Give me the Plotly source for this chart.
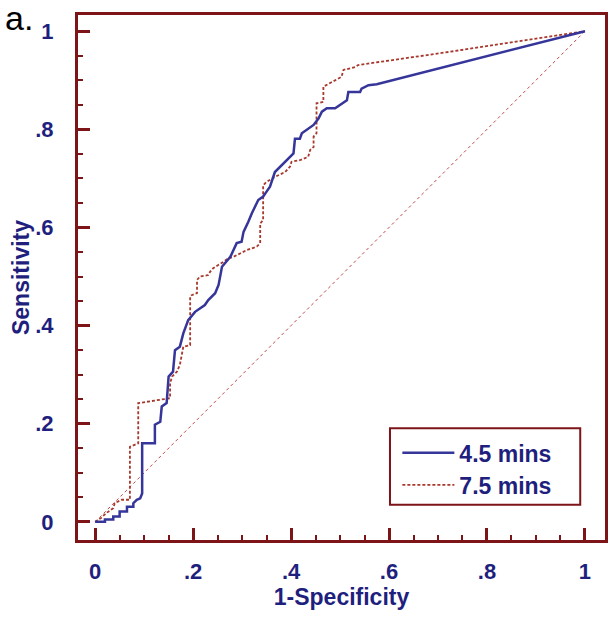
import plotly.graph_objects as go

# 4.5 mins ROC curve (1-specificity, sensitivity)
fpr_45 = [0, 0.02, 0.02, 0.037, 0.037, 0.05, 0.05, 0.065, 0.065, 0.078, 0.078, 0.085, 0.092, 0.096,
          0.096, 0.122, 0.122, 0.133, 0.136, 0.146, 0.150, 0.159, 0.163, 0.173, 0.180, 0.190, 0.204,
          0.224, 0.231, 0.245, 0.252, 0.259, 0.276, 0.282, 0.289, 0.299, 0.303, 0.313, 0.320, 0.333,
          0.343, 0.350, 0.357, 0.367, 0.384, 0.405, 0.408, 0.418, 0.422, 0.446, 0.456, 0.463, 0.473,
          0.490, 0.514, 0.517, 0.541, 0.544, 0.558, 0.575, 1.0]
tpr_45 = [0, 0.0, 0.005, 0.005, 0.011, 0.011, 0.021, 0.021, 0.031, 0.031, 0.038, 0.045, 0.048, 0.058,
          0.160, 0.160, 0.198, 0.204, 0.235, 0.242, 0.296, 0.306, 0.350, 0.357, 0.384, 0.411, 0.428,
          0.442, 0.452, 0.466, 0.483, 0.520, 0.540, 0.554, 0.568, 0.571, 0.591, 0.612, 0.629, 0.656,
          0.663, 0.673, 0.683, 0.713, 0.731, 0.751, 0.781, 0.781, 0.792, 0.809, 0.822, 0.836, 0.843,
          0.843, 0.859, 0.876, 0.876, 0.883, 0.890, 0.892, 1.0]

# 7.5 mins ROC curve
fpr_75 = [0, 0.012, 0.023, 0.037, 0.040, 0.047, 0.054, 0.071, 0.071, 0.088, 0.088, 0.153, 0.153,
          0.157, 0.167, 0.173, 0.177, 0.180, 0.194, 0.194, 0.197, 0.208, 0.208, 0.214, 0.231, 0.235,
          0.241, 0.252, 0.262, 0.272, 0.282, 0.296, 0.310, 0.330, 0.337, 0.337, 0.343, 0.343, 0.350,
          0.367, 0.388, 0.398, 0.401, 0.418, 0.435, 0.439, 0.446, 0.446, 0.452, 0.452, 0.466, 0.466,
          0.486, 0.503, 0.507, 0.531, 0.537, 0.724, 1.0]
tpr_75 = [0, 0.008, 0.018, 0.028, 0.038, 0.041, 0.045, 0.045, 0.153, 0.160, 0.242, 0.252, 0.282,
          0.296, 0.306, 0.320, 0.340, 0.357, 0.360, 0.459, 0.462, 0.466, 0.493, 0.500, 0.503, 0.510,
          0.517, 0.523, 0.530, 0.537, 0.540, 0.547, 0.554, 0.561, 0.568, 0.608, 0.615, 0.686, 0.693,
          0.703, 0.713, 0.724, 0.734, 0.737, 0.744, 0.758, 0.764, 0.785, 0.792, 0.853, 0.856, 0.887,
          0.897, 0.907, 0.921, 0.927, 0.931, 0.958, 1.0]

# chance diagonal
diag_x = [0, 1]
diag_y = [0, 1]

tick_vals = [0, 0.2, 0.4, 0.6, 0.8, 1]
tick_text = ["0", ".2", ".4", ".6", ".8", "1"]

FRAME = "#7d1418"
NAVY = "#1f1f7e"
FONT = "Arial, Liberation Sans, sans-serif"

fig = go.Figure()
fig.add_trace(go.Scatter(x=diag_x, y=diag_y, mode="lines", showlegend=False,
                         line=dict(color="#c04848", width=1, dash="dot"), hoverinfo="skip"))
fig.add_trace(go.Scatter(x=fpr_75, y=tpr_75, mode="lines", name="7.5 mins", legend="legend2",
                         line=dict(color="#a8382c", width=1.8, dash="3px,2px")))
fig.add_trace(go.Scatter(x=fpr_45, y=tpr_45, mode="lines", name="4.5 mins", legend="legend",
                         line=dict(color="#35359a", width=2.5)))

def axis_common(standoff):
    return dict(
        tickmode="array", tickvals=tick_vals, ticktext=tick_text,
        ticks="inside", ticklen=12, tickwidth=3, tickcolor=FRAME,
        showline=True, linecolor=FRAME, linewidth=3, mirror=True,
        showgrid=False, zeroline=False, automargin=False,
        tickfont=dict(family=FONT, size=22, color=NAVY, weight="bold"),
        ticklabelstandoff=standoff,
        minor=dict(ticks="inside", ticklen=5, tickwidth=2, tickcolor=FRAME,
                   tickmode="linear", tick0=0, dtick=0.05, showgrid=False),
    )

legend_font = dict(family=FONT, size=23, color=NAVY, weight="bold")

fig.update_layout(
    width=611, height=618,
    margin=dict(l=78, r=6, t=15, b=78),
    plot_bgcolor="white", paper_bgcolor="white",
    xaxis=dict(range=[-0.035, 1.041], **axis_common(10),
               title=dict(text="1-Specificity", standoff=6,
                          font=dict(family=FONT, size=23, color=NAVY, weight="bold"))),
    yaxis=dict(range=[-0.037, 1.033], **axis_common(17),
               title=dict(text="Sensitivity", standoff=0,
                          font=dict(family=FONT, size=23, color=NAVY, weight="bold"))),
    legend=dict(x=0.606, y=0.166, xanchor="left", yanchor="middle", itemwidth=52,
                bgcolor="rgba(0,0,0,0)", borderwidth=0, font=legend_font),
    legend2=dict(x=0.606, y=0.105, xanchor="left", yanchor="middle", itemwidth=52,
                 bgcolor="rgba(0,0,0,0)", borderwidth=0, font=legend_font),
    shapes=[dict(type="rect", xref="paper", yref="paper",
                 x0=0.592, x1=0.953, y0=0.067, y1=0.213,
                 line=dict(color=FRAME, width=2), fillcolor="rgba(0,0,0,0)")],
    annotations=[dict(text="a.", xref="paper", yref="paper", x=-0.142, y=0.994,
                      xanchor="left", yanchor="middle", showarrow=False,
                      font=dict(family=FONT, size=34, color="black"))],
)

fig.write_html("out.html", config={"displayModeBar": False},
               post_script="document.body.style.margin='0';")
